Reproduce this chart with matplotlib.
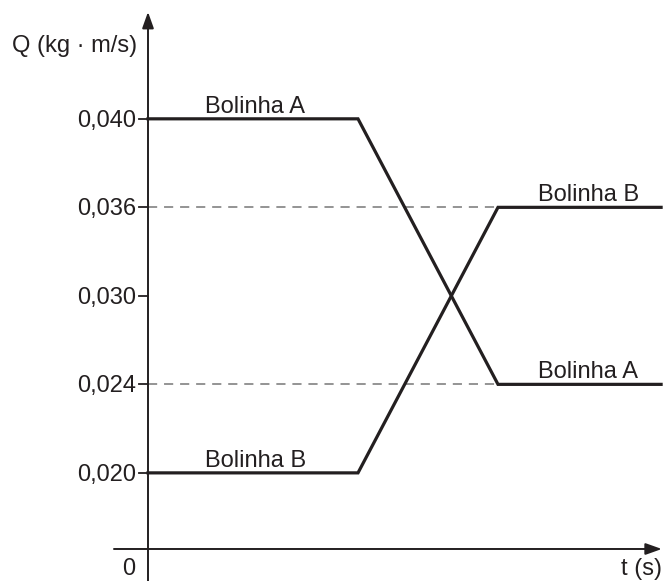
import numpy as np
import matplotlib
matplotlib.use('Agg')
import matplotlib.pyplot as plt

# data
q_ticks = [0.020, 0.024, 0.030, 0.036, 0.040]
q_labels = ['0,020', '0,024', '0,030', '0,036', '0,040']
t = [0, 3, 5, 7.33]
q_a = [0.040, 0.040, 0.024, 0.024]
q_b = [0.020, 0.020, 0.036, 0.036]

plt.rcParams['font.family'] = ['Liberation Sans', 'DejaVu Sans']
ink = '#231f20'
fs = 17

# the vertical axis is schematic: equal spacing between the marked values
qv = np.array([0.0] + q_ticks)
lv = np.array([0.0, 0.86, 1.86, 2.86, 3.86, 4.86])

def fwd(v):
    v = np.asarray(v, dtype=float)
    out = np.interp(v, qv, lv)
    out = np.where(v < 0, v / 0.020 * 0.86, out)
    out = np.where(v > 0.040, 4.86 + (v - 0.040) / 0.004, out)
    return out

def inv(p):
    p = np.asarray(p, dtype=float)
    out = np.interp(p, lv, qv)
    out = np.where(p < 0, p / 0.86 * 0.020, out)
    out = np.where(p > 4.86, 0.040 + (p - 4.86) * 0.004, out)
    return out

fig = plt.figure(figsize=(6.66, 5.81), dpi=100)
ax = fig.add_axes([0, 0, 1, 1])
ax.set_yscale('function', functions=(fwd, inv))
ax.set_xlim(-148 / 70, 518 / 70)
ax.set_ylim(-0.00841, 0.04537)
ax.axis('off')

# axes with arrows
ax.annotate('', xy=(0, 0.04483), xytext=(0, -0.01),
            arrowprops=dict(arrowstyle='-|>,head_length=0.7,head_width=0.25',
                            mutation_scale=14, lw=1.4, color=ink, shrinkA=0, shrinkB=0))
ax.annotate('', xy=(7.34, 0), xytext=(-0.486, 0),
            arrowprops=dict(arrowstyle='-|>,head_length=0.7,head_width=0.25',
                            mutation_scale=14, lw=1.4, color=ink, shrinkA=0, shrinkB=0))

# guide lines
for q in [0.036, 0.024]:
    ax.plot([0, 5], [q, q], color='#777777', lw=1.1, ls=(0, (6, 4.5)))

# ticks and labels
for q, lab in zip(q_ticks, q_labels):
    ax.plot([-9 / 70, 0], [q, q], color=ink, lw=1.3)
    ax.annotate(lab, (0, q), xytext=(-8.5, -5.6), textcoords='offset points',
                ha='right', va='baseline', fontsize=fs, color=ink)

ax.plot(t, q_a, color=ink, lw=2.3, solid_joinstyle='miter')
ax.plot(t, q_b, color=ink, lw=2.3, solid_joinstyle='miter')

ax.annotate('Bolinha A', (1.53, q_a[0]), xytext=(0, 4.5), textcoords='offset points',
            ha='center', va='baseline', fontsize=fs, color=ink)
ax.annotate('Bolinha B', (1.53, q_b[0]), xytext=(0, 4.5), textcoords='offset points',
            ha='center', va='baseline', fontsize=fs, color=ink)
ax.annotate('Bolinha B', (6.29, q_b[-1]), xytext=(0, 4.5), textcoords='offset points',
            ha='center', va='baseline', fontsize=fs, color=ink)
ax.annotate('Bolinha A', (6.29, q_a[-1]), xytext=(0, 4.5), textcoords='offset points',
            ha='center', va='baseline', fontsize=fs, color=ink)

ax.annotate('0', (0, 0), xytext=(-13.7, -18.7), textcoords='offset points',
            ha='center', va='baseline', fontsize=fs, color=ink)
ax.annotate('t (s)', (7.34, 0), xytext=(0, -18.7), textcoords='offset points',
            ha='right', va='baseline', fontsize=fs, color=ink)
ax.text(12 / 666, 1 - 52 / 581, 'Q (kg · m/s)', transform=ax.transAxes,
        ha='left', va='baseline', fontsize=fs, color=ink)

fig.savefig('out.png', dpi=100)
